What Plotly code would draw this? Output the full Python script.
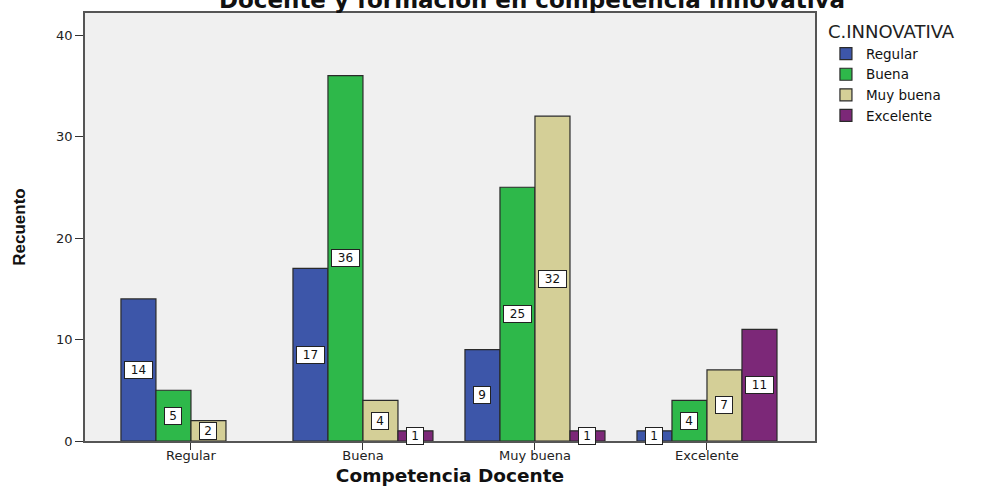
import plotly.graph_objects as go

categories = ["Regular", "Buena", "Muy buena", "Excelente"]
series_names = ["Regular", "Buena", "Muy buena", "Excelente"]
regular = [14, 17, 9, 1]
buena = [5, 36, 25, 4]
muy_buena = [2, 4, 32, 7]
excelente = [0, 1, 1, 11]
series_values = [regular, buena, muy_buena, excelente]
colors = ["#3d56a9", "#2eb84a", "#d4cf97", "#7c2878"]
y_ticks = [0, 10, 20, 30, 40]

BARGAP = 0.186
FONT = "DejaVu Sans"

fig = go.Figure()
for name, vals, col in zip(series_names, series_values, colors):
    fig.add_trace(go.Bar(
        name=name, x=categories, y=[v if v else None for v in vals],
        marker=dict(color=col, line=dict(color="#2a2a2a", width=1.2)),
    ))

# data labels in white boxes, centred in each bar
n = len(series_names)
w = (1 - BARGAP) / n
for k, vals in enumerate(series_values):
    off = -(1 - BARGAP) / 2 + w * (k + 0.5)
    for i, v in enumerate(vals):
        if v == 0:
            continue
        t = str(v)
        fig.add_annotation(
            x=i + off, y=v / 2, xref="x", yref="y", text=t, showarrow=False,
            font=dict(family=FONT, size=12, color="#111"),
            bgcolor="white", bordercolor="#222", borderwidth=1, borderpad=1,
            width=11 * len(t) + 3, height=14,
        )

fig.update_layout(
    width=987, height=486,
    margin=dict(l=85, r=172, t=13, b=45),
    paper_bgcolor="white", plot_bgcolor="#f0f0f0",
    barmode="group", bargap=BARGAP, bargroupgap=0,
    title=dict(text="<b>Docente y formación en competencia innovativa</b>",
               x=0.539, xref="container", xanchor="center",
               y=1, yref="container", yanchor="middle", automargin=False,
               font=dict(family=FONT, size=23, color="#111")),
    showlegend=True,
    legend=dict(x=1.015, xanchor="left", y=1 - 2 / 428, yanchor="top",
                title=dict(text="C.INNOVATIVA", font=dict(family=FONT, size=18, color="#222")),
                font=dict(family=FONT, size=13.5, color="#111"),
                bgcolor="rgba(0,0,0,0)", tracegroupgap=0, itemwidth=30),
    font=dict(family=FONT, color="#222"),
)
fig.update_xaxes(
    type="category", range=[-0.616, 3.628], automargin=False,
    showline=True, mirror=True, linecolor="#555", linewidth=1.5,
    ticks="outside", ticklen=7, tickcolor="#333", tickwidth=1.2,
    ticklabelstandoff=-5,
    tickfont=dict(family=FONT, size=13, color="#222"),
    showgrid=False,
    title=dict(text="<b>Competencia Docente</b>", standoff=16,
               font=dict(family=FONT, size=18.5, color="#111")),
)
fig.update_yaxes(
    range=[0, 42.17], tickvals=y_ticks, automargin=False,
    showline=True, mirror=True, linecolor="#555", linewidth=1.5,
    ticks="outside", ticklen=8, tickcolor="#333", tickwidth=1.2,
    tickfont=dict(family=FONT, size=13, color="#222"),
    showgrid=False, zeroline=False,
    title=dict(text="<b>Recuento</b>", standoff=26,
               font=dict(family="Liberation Sans", size=17, color="#111")),
)

fig.write_html("out.html")
